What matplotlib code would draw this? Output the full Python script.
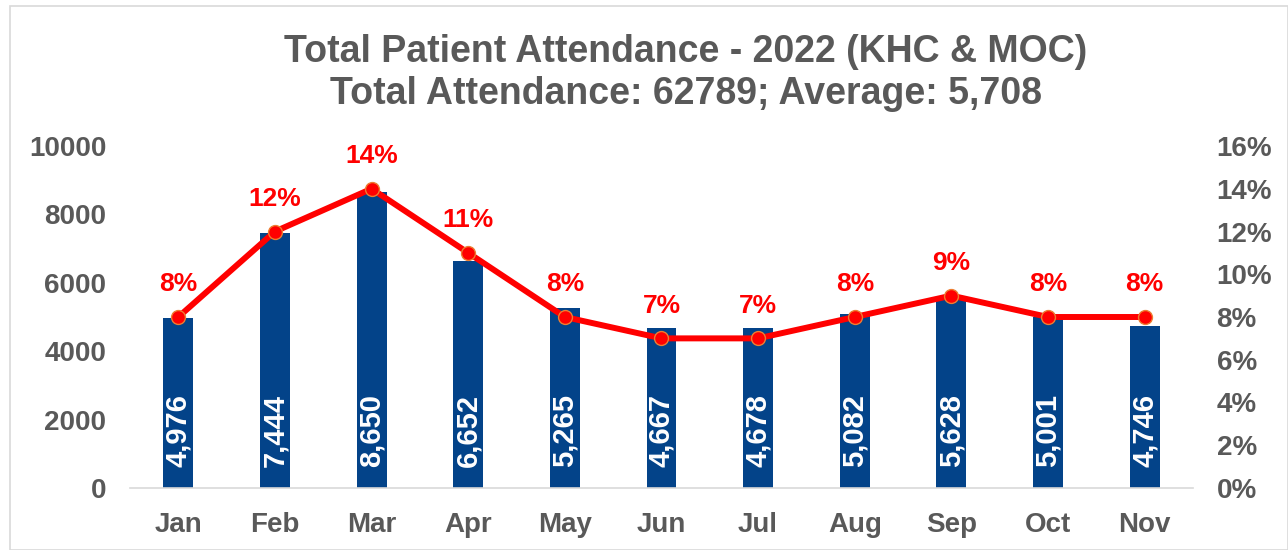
import matplotlib.pyplot as plt
from matplotlib.patches import Rectangle

plt.rcParams['font.family'] = ['Liberation Sans', 'DejaVu Sans']
plt.rcParams['font.weight'] = 'bold'

months = ['Jan', 'Feb', 'Mar', 'Apr', 'May', 'Jun', 'Jul', 'Aug', 'Sep', 'Oct', 'Nov']
attendance = [4976, 7444, 8650, 6652, 5265, 4667, 4678, 5082, 5628, 5001, 4746]
share_pct = [8, 12, 14, 11, 8, 7, 7, 8, 9, 8, 8]
total = 62789
average = '5,708'

grey = '#595959'
bar_col = '#034389'

fig = plt.figure(figsize=(12.88, 5.5), dpi=100)
ax = fig.add_axes([130/1288, 1-488/550, (1193-130)/1288, (488-146)/550])
ax2 = ax.twinx()

x = range(len(months))
ax.bar(x, attendance, width=0.31, color=bar_col, zorder=2)
for xi, v in zip(x, attendance):
    ax.text(xi, 620, f'{v:,}', rotation=90, ha='center', va='bottom',
            color='white', fontsize=21, fontweight='bold', zorder=3)

ax.set_ylim(0, 10000)
ax.set_yticks(range(0, 10001, 2000))
ax.set_xlim(-0.5, len(months) - 0.5)
ax.set_xticks(list(x))
ax.set_xticklabels(months)

ax2.plot(list(x), share_pct, color='red', lw=4.3, marker='o', ms=10,
         mfc='red', mec='#ED7D31', mew=1, zorder=4)
for xi, p in zip(x, share_pct):
    ax2.annotate(f'{p}%', (xi, p), xytext=(0, 15), textcoords='offset points',
                 ha='center', va='bottom', color='red', fontsize=19, fontweight='bold')
ax2.set_ylim(0, 16)
ax2.set_yticks(range(0, 17, 2))
ax2.set_yticklabels([f'{t}%' for t in range(0, 17, 2)])

for a in (ax, ax2):
    for s in a.spines.values():
        s.set_visible(False)
    a.tick_params(length=0, labelsize=20, labelcolor=grey)
ax.spines['bottom'].set_visible(True)
ax.spines['bottom'].set_color('#D9D9D9')
ax.spines['bottom'].set_linewidth(1.2)
ax.tick_params(axis='y', pad=17)
ax.tick_params(axis='x', pad=17)
ax2.tick_params(axis='y', pad=17)

fig.text(686/1288, 1-73/550,
         f'Total Patient Attendance - 2022 (KHC & MOC)\nTotal Attendance: {total}; Average: {average}',
         ha='center', va='center', fontsize=27, fontweight='bold', color=grey,
         linespacing=1.2)

fig.patches.append(Rectangle((10/1288, 0.0), 1 - 10/1288, 1 - 6/550, transform=fig.transFigure,
                             fill=False, edgecolor='#D9D9D9', lw=1.2))

fig.savefig('out.png', dpi=100)
